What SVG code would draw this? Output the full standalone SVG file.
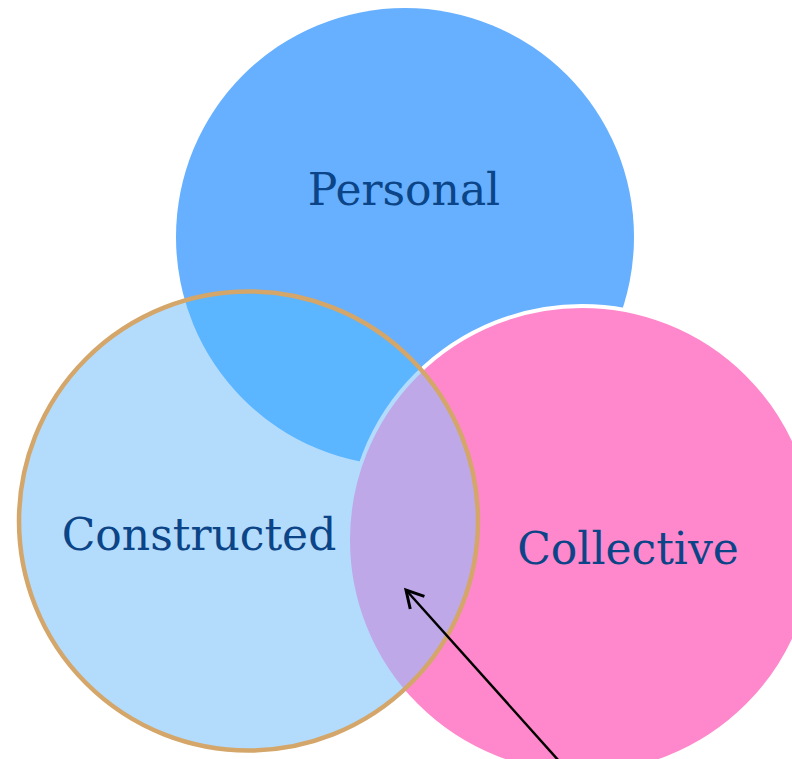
<svg xmlns="http://www.w3.org/2000/svg" width="792" height="759" viewBox="0 0 792 759">
<style>
.lbl{font-family:"DejaVu Serif","Liberation Serif",serif;font-size:44px;fill:#0B4487;text-anchor:middle}
.conn{stroke:#000;stroke-width:2.5;fill:none}
</style>
<defs>
<clipPath id="cclip"><circle cx="248.5" cy="521" r="229.5"/></clipPath>
<marker id="arr" viewBox="-2 -2 26 26" refX="20" refY="11" markerWidth="26" markerHeight="26" markerUnits="userSpaceOnUse" orient="auto">
<polyline points="3,1.5 20,11 3,20.5" fill="none" stroke="#000" stroke-width="3"/>
</marker>
</defs>
<rect width="792" height="759" fill="#fff"/>
<g id="personal">
<circle cx="405" cy="237" r="229" fill="#66B0FF"/>
</g>
<g id="collective">
<circle cx="582" cy="540" r="234" fill="#FF88CC" stroke="#fff" stroke-width="4"/>
</g>
<g id="constructed">
<circle cx="248.5" cy="521" r="229.5" fill="#B3DBFC"/>
<g clip-path="url(#cclip)">
<circle cx="405" cy="237" r="229" fill="#5BB5FF"/>
<circle cx="582" cy="540" r="234" fill="#BFA8E8" stroke="#B3DBFC" stroke-width="4"/>
</g>
<circle cx="248.5" cy="521" r="229.5" fill="none" stroke="#D4A66A" stroke-width="4.5"/>
</g>
<g id="labels">
<text class="lbl" x="404" y="205">Personal</text>
<text class="lbl" x="199" y="550">Constructed</text>
<text class="lbl" x="628" y="564">Collective</text>
</g>
<g id="connectors">
<line class="conn" x1="559" y1="761" x2="406" y2="590" marker-end="url(#arr)"/>
</g>
</svg>
